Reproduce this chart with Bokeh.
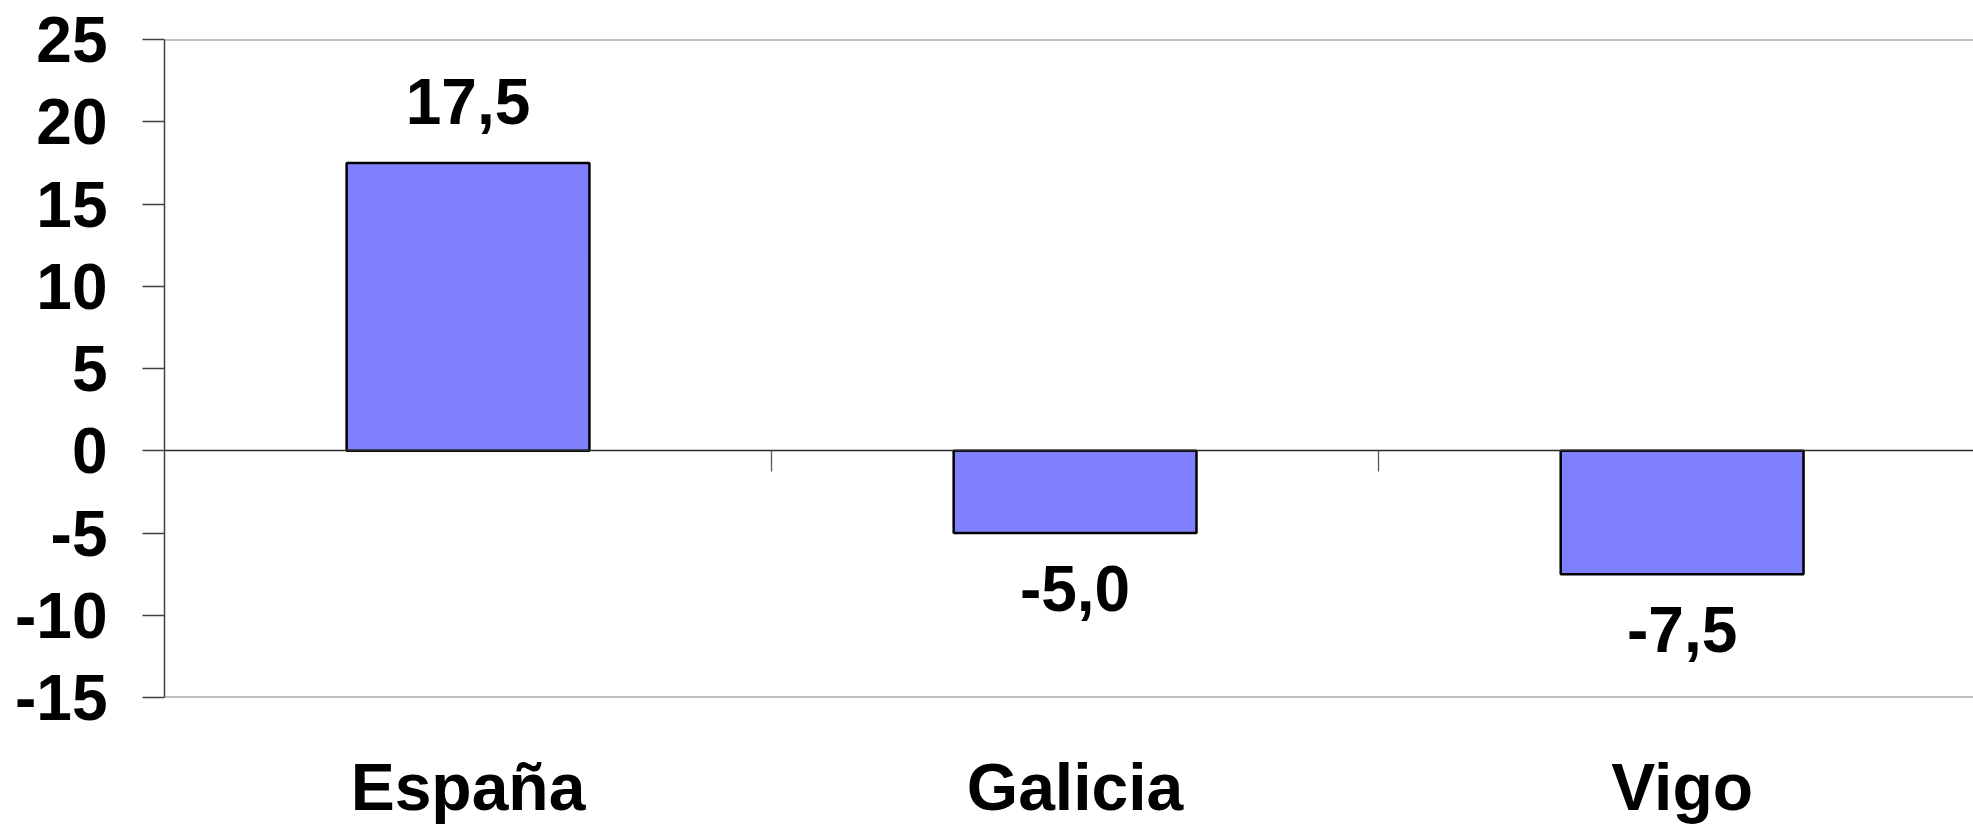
import numpy as np
from bokeh.plotting import figure
from bokeh.models import Range1d, FixedTicker, LinearAxis, ColumnDataSource, Span
from bokeh.core.properties import value
from bokeh.embed import file_html
from bokeh.resources import INLINE

categories = ["España", "Galicia", "Vigo"]
values = [17.5, -5.0, -7.5]
value_labels = ["17,5", "-5,0", "-7,5"]
y_ticks = [-15, -10, -5, 0, 5, 10, 15, 20, 25]
y_tick_labels = ["-15", "-10", "-5", "0", "5", "10", "15", "20", "25"]

FONT = "Liberation Sans"

xs = (np.arange(len(categories)) + 0.5).tolist()
boundaries = np.arange(1, len(categories)).tolist()
yoff = [-61 if v > 0 else 55 for v in values]

src = ColumnDataSource(dict(x=xs, value=values, label=value_labels, yoff=yoff))

p = figure(width=1973, height=826,
           x_range=Range1d(0, 2.98), y_range=Range1d(y_ticks[0], y_ticks[-1]),
           output_backend="svg", toolbar_location=None,
           min_border_left=164, min_border_right=0,
           min_border_top=39, min_border_bottom=128)

p.outline_line_color = None
p.background_fill_color = "white"
p.border_fill_color = "white"
p.xgrid.visible = False
p.ygrid.visible = False

# frame lines top / bottom
for loc in (y_ticks[0], y_ticks[-1]):
    p.add_layout(Span(location=loc, dimension="width",
                      line_color="#808080", line_width=2))

# y axis
ya = p.yaxis[0]
ya.ticker = FixedTicker(ticks=y_ticks)
ya.major_label_overrides = {t: s for t, s in zip(y_ticks, y_tick_labels)}
ya.axis_line_color = "#404040"
ya.axis_line_width = 1.5
ya.major_tick_line_color = "#404040"
ya.major_tick_line_width = 1.5
ya.major_tick_out = 22
ya.major_tick_in = 0
ya.minor_tick_line_color = None
ya.major_label_standoff = 35
ya.major_label_text_font = FONT
ya.major_label_text_font_style = "bold"
ya.major_label_text_font_size = "64px"
ya.major_label_text_color = "black"

# category labels axis (below)
xa = p.xaxis[0]
xa.ticker = FixedTicker(ticks=xs, minor_ticks=[])
xa.major_label_overrides = {x: c for x, c in zip(xs, categories)}
xa.axis_line_color = None
xa.major_tick_line_color = None
xa.minor_tick_line_color = None
xa.major_tick_out = 0
xa.major_tick_in = 0
xa.major_label_standoff = 52
xa.major_label_text_font = FONT
xa.major_label_text_font_style = "bold"
xa.major_label_text_font_size = "66px"
xa.major_label_text_color = "black"

# zero line axis with category boundary ticks
za = LinearAxis(fixed_location=0,
                ticker=FixedTicker(ticks=[], minor_ticks=boundaries))
za.axis_line_color = "#2a2a2a"
za.axis_line_width = 1.3
za.major_tick_line_color = None
za.minor_tick_line_color = "#555555"
za.minor_tick_line_width = 1.3
za.minor_tick_in = 21
za.minor_tick_out = 0
za.major_label_text_font_size = "0px"
za.major_label_standoff = 0
p.add_layout(za, "above")

p.vbar(x="x", top="value", bottom=0, width=0.4, source=src,
       fill_color="#8080FF", line_color="black", line_width=2.5)

p.text(x="x", y="value", text="label", y_offset="yoff", source=src,
       text_align="center", text_baseline="middle",
       text_font=value(FONT), text_font_style="bold",
       text_font_size="64px", text_color="black")

open("out.html", "w").write(file_html(p, INLINE))
